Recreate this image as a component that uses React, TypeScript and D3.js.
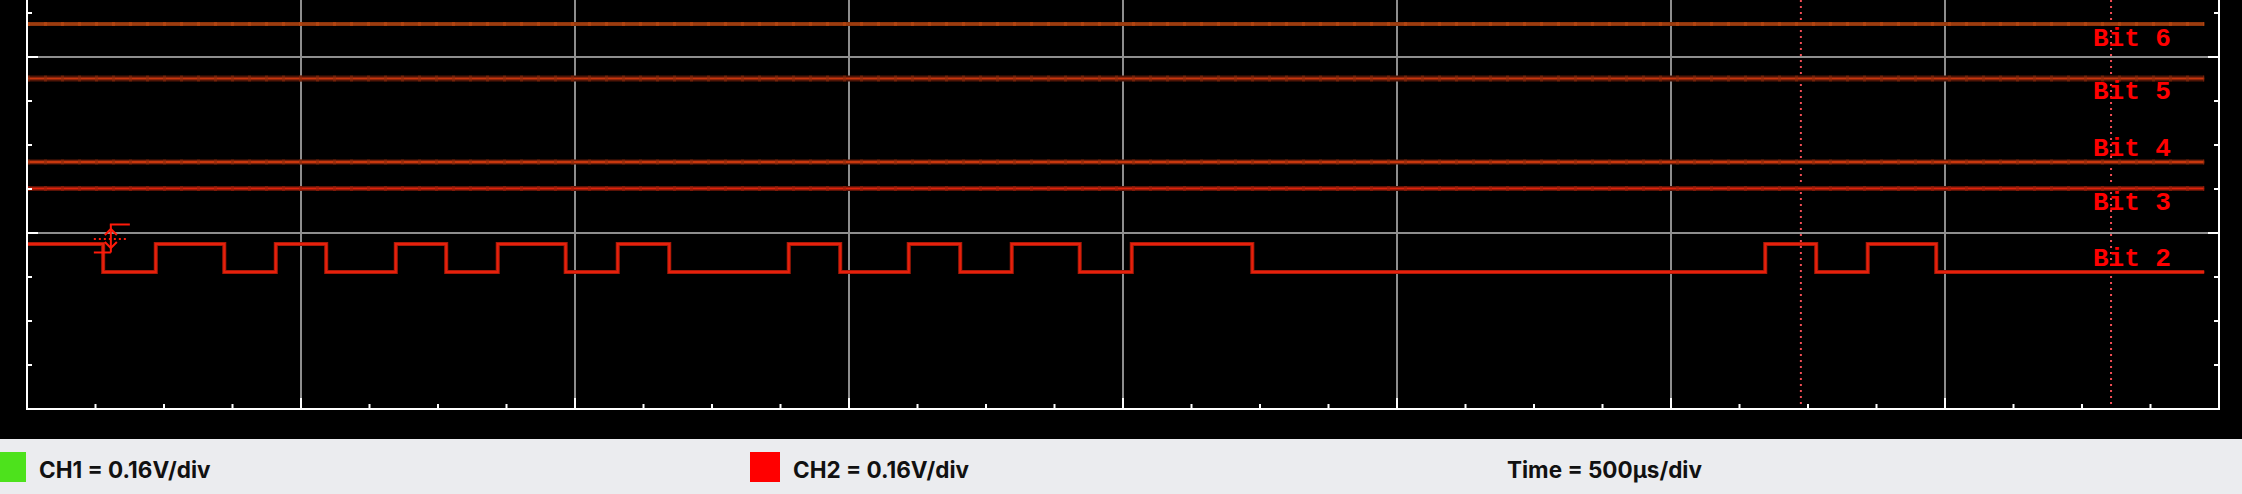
import React from "react";
import * as d3 from "d3";

// ---- data ----
const timeDomain = [0, 4000]; // µs, 8 div × 500 µs
const divDomain = [0, 4]; // vertical divisions (top part cropped)
const verticalGridTimes = [500, 1000, 1500, 2000, 2500, 3000, 3500];
const horizontalGridDivs = [1, 2, 3];
const traceEnd = 3973;

const flatNames = ["Bit 6", "Bit 5", "Bit 4", "Bit 3"];
const flatLevels = [2.1875, 1.878, 1.403, 1.253];

const bit2Times = [0, 139, 235, 360, 454, 546, 673, 765, 859, 983, 1078, 1172, 1390, 1484, 1609, 1703, 1797, 1921, 2016, 2236, 3172, 3265, 3359, 3484];
const bit2States = [1, 0, 1, 0, 1, 0, 1, 0, 1, 0, 1, 0, 1, 0, 1, 0, 1, 0, 1, 0, 1, 0, 1, 0];
const bit2High = 0.9375;
const bit2Low = 0.778;

const labelNames = ["Bit 6", "Bit 5", "Bit 4", "Bit 3", "Bit 2"];
const labelLevels = [2.064, 1.76, 1.439, 1.131, 0.8125];
const labelTime = 3770;

const cursorTimes = [3237, 3803];
const triggerTime = 153;
const triggerLevel = 0.966;

const legendItems = ["CH1 = 0.16V/div", "CH2 = 0.16V/div"];
const legendColors = ["#4de21c", "#ff0000"];
const timeLabel = "Time = 500µs/div";

// ---- layout ----
const W = 2242;
const H = 494;
const left = 27;
const right = 2219;
const bottom = 409;
const divPx = 176;
const legendTop = 439;

export default function App() {
  const x = d3.scaleLinear().domain(timeDomain).range([left, right]);
  const y = d3.scaleLinear().domain(divDomain).range([bottom, bottom - divPx * divDomain[1]]);

  const minorT = d3.range(125, 4000, 125);
  const minorD = d3.range(0.25, 2.5, 0.25);

  const bit2Pts: [number, number][] = bit2Times.map((t, i) => [t, bit2States[i] ? bit2High : bit2Low]);
  bit2Pts.push([traceEnd, bit2States[bit2States.length - 1] ? bit2High : bit2Low]);
  const stepLine = d3
    .line<[number, number]>()
    .x((d) => x(d[0]))
    .y((d) => y(d[1]))
    .curve(d3.curveStepAfter);
  const bit2Path = stepLine(bit2Pts) || "";

  const flatStyles = [
    { halo: "#7c2e0c", haloW: 4, core: "#9c3c0e", coreW: 3, spot: "#bf4a12" },
    { halo: "#4e1406", haloW: 6, core: "#c8360e", coreW: 2, spot: "#8a2a0c" },
    { halo: "#5a1808", haloW: 5, core: "#c8380e", coreW: 2.5, spot: "#8a2a0c" },
    { halo: "#5a1206", haloW: 5, core: "#e0240c", coreW: 2, spot: "#9a1e0a" },
  ];

  const cx = x(triggerTime);
  const cy = y(triggerLevel);
  const legendFont = "Inter, 'Noto Sans', sans-serif";

  return (
    <svg
      width={W}
      height={H}
      style={{ position: "absolute", left: 0, top: 0, display: "block" }}
      xmlns="http://www.w3.org/2000/svg"
    >
      <rect x={0} y={0} width={W} height={legendTop} fill="#000" />
      <rect x={0} y={legendTop} width={W} height={H - legendTop} fill="#ebecef" />

      {/* grid */}
      {verticalGridTimes.map((t) => (
        <line key={"vg" + t} x1={x(t)} x2={x(t)} y1={0} y2={bottom} stroke="#8e8e8e" strokeWidth={2} />
      ))}
      {horizontalGridDivs.map((d) => (
        <line key={"hg" + d} x1={left} x2={right} y1={y(d)} y2={y(d)} stroke="#8e8e8e" strokeWidth={2} />
      ))}

      {/* cursors */}
      {cursorTimes.map((t) => (
        <line
          key={"cur" + t}
          x1={x(t)}
          x2={x(t)}
          y1={0}
          y2={bottom - 2}
          stroke="#f04d55"
          strokeWidth={2}
          strokeDasharray="2 4"
        />
      ))}

      {/* flat traces */}
      {flatLevels.map((lv, i) => {
        const s = flatStyles[i];
        return (
          <g key={"flat" + i}>
            <line x1={x(0)} x2={x(traceEnd)} y1={y(lv)} y2={y(lv)} stroke={s.halo} strokeWidth={s.haloW} />
            <line x1={x(0)} x2={x(traceEnd)} y1={y(lv)} y2={y(lv)} stroke={s.core} strokeWidth={s.coreW} />
            <line
              x1={x(0)}
              x2={x(traceEnd)}
              y1={y(lv)}
              y2={y(lv)}
              stroke={s.spot}
              strokeWidth={s.haloW}
              strokeDasharray="3 14"
              opacity={0.6}
            />
          </g>
        );
      })}

      {/* Bit 2 */}
      <path d={bit2Path} fill="none" stroke="#a81a08" strokeWidth={4} />
      <path d={bit2Path} fill="none" stroke="#e8200c" strokeWidth={2} />

      {/* trigger marker */}
      <g stroke="#ff1a0a" strokeWidth={2} fill="none">
        <path d={`M${cx - 1},${cy - 14.5}H${cx + 19}`} />
        <path d={`M${cx},${cy - 14.5}V${cy + 13.5}`} />
        <path d={`M${cx - 17},${cy + 13.5}H${cx}`} />
        <path d={`M${cx - 6},${cy - 4}L${cx},${cy - 10}L${cx + 6},${cy - 4}`} />
        <path d={`M${cx - 6},${cy + 3}L${cx},${cy + 9}L${cx + 6},${cy + 3}`} />
        <path d={`M${cx - 17},${cy}H${cx + 17}`} strokeDasharray="2 3" />
      </g>

      {/* labels */}
      {labelNames.map((n, i) => (
        <text
          key={n}
          x={x(labelTime)}
          y={y(labelLevels[i])}
          fill="#ff0000"
          fontFamily="'Liberation Mono', monospace"
          fontWeight="bold"
          fontSize={26}
        >
          {n}
        </text>
      ))}

      {/* axes */}
      <g stroke="#fff" strokeWidth={2}>
        <line x1={left} x2={left} y1={0} y2={bottom + 1} />
        <line x1={right} x2={right} y1={0} y2={bottom + 1} />
        <line x1={left - 1} x2={right + 1} y1={bottom} y2={bottom} />
        {minorT.map((t) => {
          const major = t % 500 === 0;
          return <line key={"bt" + t} x1={x(t)} x2={x(t)} y1={bottom} y2={bottom - (major ? 11 : 5)} />;
        })}
        {minorD.map((d) => {
          const major = Math.abs(d - Math.round(d)) < 1e-6;
          const len = major ? 11 : 5;
          return (
            <g key={"lt" + d}>
              <line x1={left} x2={left + len} y1={y(d)} y2={y(d)} />
              <line x1={right} x2={right - len} y1={y(d)} y2={y(d)} />
            </g>
          );
        })}
      </g>

      {/* legend */}
      <rect x={0} y={452} width={26} height={30} fill={legendColors[0]} />
      <text x={39} y={478} fontFamily={legendFont} fontWeight={700} fontSize={22.5} fill="#111">
        {legendItems[0]}
      </text>
      <rect x={750} y={452} width={30} height={30} fill={legendColors[1]} />
      <text x={793} y={478} fontFamily={legendFont} fontWeight={700} fontSize={22.5} fill="#111">
        {legendItems[1]}
      </text>
      <text x={1507} y={478} fontFamily={legendFont} fontWeight={700} fontSize={22.5} fill="#111">
        {timeLabel}
      </text>
    </svg>
  );
}
